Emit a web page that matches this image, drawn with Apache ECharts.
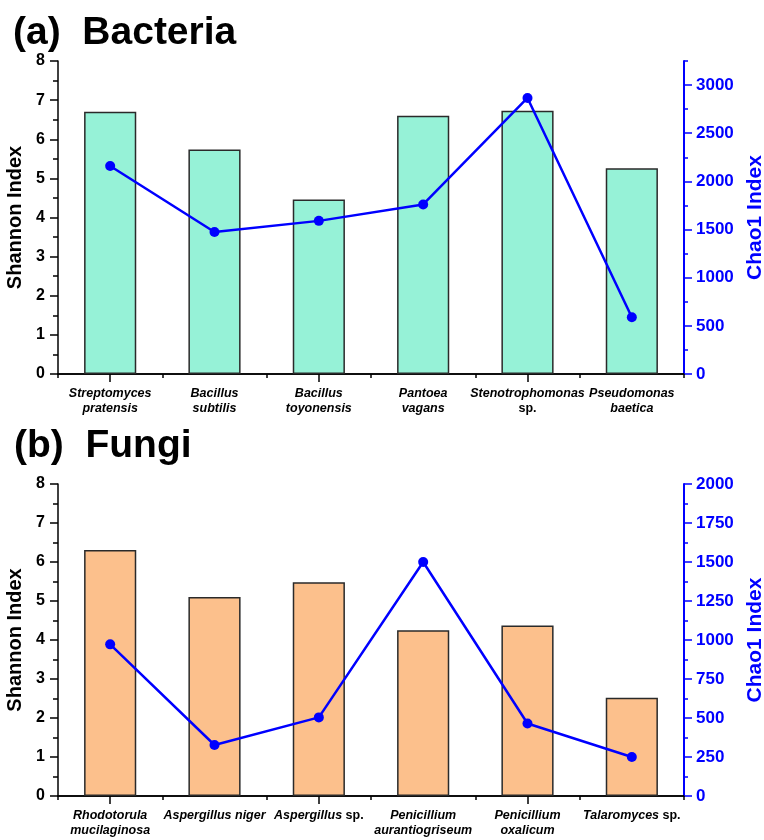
<!DOCTYPE html>
<html>
<head>
<meta charset="utf-8">
<script src="https://cdn.jsdelivr.net/npm/echarts@6/dist/echarts.min.js"></script>
<style>
html,body{margin:0;padding:0;background:#fff;}
#chart{width:764px;height:840px;}
</style>
</head>
<body>
<div id="chart"></div>
<script>
// ---- data ----
const bacteriaCategories = ['Streptomyces\npratensis', 'Bacillus\nsubtilis', 'Bacillus\ntoyonensis', 'Pantoea\nvagans', 'Stenotrophomonas\nsp.', 'Pseudomonas\nbaetica'];
const bacteriaShannon = [6.70, 5.74, 4.46, 6.60, 6.73, 5.26];
const bacteriaChao1 = [2160, 1475, 1590, 1760, 2866, 590];

const fungiCategories = ['Rhodotorula\nmucilaginosa', 'Aspergillus niger', 'Aspergillus sp.', 'Penicillium\naurantiogriseum', 'Penicillium\noxalicum', 'Talaromyces sp.'];
const fungiShannon = [6.31, 5.10, 5.48, 4.25, 4.37, 2.52];
const fungiChao1 = [972, 327, 504, 1500, 465, 250];

const shannonTicks = [0, 1, 2, 3, 4, 5, 6, 7, 8];
const bacteriaChao1Ticks = [0, 500, 1000, 1500, 2000, 2500, 3000];
const fungiChao1Ticks = [0, 250, 500, 750, 1000, 1250, 1500, 1750, 2000];

// ---- styling ----
const FONT = 'Liberation Sans, Arial, sans-serif';
const BLUE = '#0000FF';

function catLabel(v) {
  return v.split('\n').map(line =>
    line.split(' ').map(w => w === 'sp.' ? '{n|' + w + '}' : '{i|' + w + '}').join('{i| }')
  ).join('\n');
}

function grids() {
  return [
    { left: 58, right: 80, top: 61, height: 313, containLabel: false, outerBoundsMode: 'none' },
    { left: 58, right: 80, top: 484, height: 312, containLabel: false, outerBoundsMode: 'none' }
  ];
}

function xAxesFor(gi, cats) {
  return [
    {
      type: 'category', gridIndex: gi, position: 'bottom', data: cats,
      axisLine: { lineStyle: { color: '#000', width: 1.5 } },
      axisTick: { show: true, length: 4, lineStyle: { color: '#000', width: 1.5 } },
      axisLabel: {
        interval: 0, margin: 12, formatter: catLabel, lineHeight: 15,
        rich: {
          i: { fontFamily: FONT, fontSize: 12.5, fontWeight: 'bold', fontStyle: 'italic', color: '#000', lineHeight: 15 },
          n: { fontFamily: FONT, fontSize: 12.5, fontWeight: 'bold', fontStyle: 'normal', color: '#000', lineHeight: 15 }
        }
      }
    },
    {
      type: 'category', gridIndex: gi, position: 'bottom', data: cats,
      axisLine: { show: false },
      axisTick: { show: true, alignWithLabel: true, length: 8, lineStyle: { color: '#000', width: 1.5 } },
      axisLabel: { show: false }
    },
    {
      type: 'category', gridIndex: gi, position: 'top', data: cats,
      axisLine: { show: true, lineStyle: { color: '#000', width: 1.5 } },
      axisTick: { show: false },
      axisLabel: { show: false }
    }
  ];
}

function leftAxis(gi) {
  return {
    type: 'value', gridIndex: gi, position: 'left', min: 0, max: 8, interval: 1,
    name: 'Shannon Index', nameLocation: 'middle', nameGap: 26, nameRotate: 90,
    nameTextStyle: { fontFamily: FONT, fontSize: 20, fontWeight: 'bold', color: '#000' },
    axisLine: { show: true, lineStyle: { color: '#000', width: 1.5 } },
    axisTick: { show: true, length: 8, lineStyle: { color: '#000', width: 1.5 } },
    minorTick: { show: true, splitNumber: 2, length: 5, lineStyle: { color: '#000', width: 1.5 } },
    axisLabel: {
      margin: 13, fontFamily: FONT, fontSize: 16, fontWeight: 'bold', color: '#000',
      customValues: shannonTicks
    },
    splitLine: { show: false }
  };
}

function rightAxes(gi, max, minorStep, majorTicks) {
  return [
    {
      type: 'value', gridIndex: gi, position: 'right', min: 0, max: max, interval: minorStep,
      name: 'Chao1 Index', nameLocation: 'middle', nameGap: 55, nameRotate: 90,
      nameTextStyle: { fontFamily: FONT, fontSize: 21, fontWeight: 'bold', color: BLUE },
      axisLine: { show: true, lineStyle: { color: BLUE, width: 2 } },
      axisTick: { show: true, length: 4, lineStyle: { color: BLUE, width: 1.5 } },
      axisLabel: {
        margin: 12, fontFamily: FONT, fontSize: 17, fontWeight: 'bold', color: BLUE,
        customValues: majorTicks, formatter: v => String(v)
      },
      splitLine: { show: false }
    },
    {
      type: 'value', gridIndex: gi, position: 'right', min: 0, max: max, interval: minorStep,
      axisLine: { show: false },
      axisTick: { show: true, length: 8, customValues: majorTicks, lineStyle: { color: BLUE, width: 1.5 } },
      axisLabel: { show: false },
      splitLine: { show: false }
    }
  ];
}

const xAxis = [...xAxesFor(0, bacteriaCategories), ...xAxesFor(1, fungiCategories)];
const yAxis = [
  leftAxis(0), ...rightAxes(0, 3250, 250, bacteriaChao1Ticks),
  leftAxis(1), ...rightAxes(1, 2000, 125, fungiChao1Ticks)
];

function barSeries(xi, yi, data, color) {
  return {
    type: 'bar', xAxisIndex: xi, yAxisIndex: yi, data: data, barWidth: '50%',
    itemStyle: { color: color, borderColor: '#2a2a2a', borderWidth: 1.5 },
    silent: true, animation: false
  };
}
function lineSeries(xi, yi, data) {
  return {
    type: 'line', xAxisIndex: xi, yAxisIndex: yi, data: data,
    symbol: 'circle', symbolSize: 10,
    lineStyle: { color: BLUE, width: 2.5 },
    itemStyle: { color: BLUE },
    z: 5, silent: true, animation: false
  };
}

const option = {
  backgroundColor: '#fff',
  animation: false,
  title: [
    { text: '(a)  Bacteria', left: 13, top: 14, padding: 0,
      textStyle: { fontFamily: FONT, fontSize: 39, fontWeight: 'bold', color: '#000' } },
    { text: '(b)  Fungi', left: 14, top: 427, padding: 0,
      textStyle: { fontFamily: FONT, fontSize: 39, fontWeight: 'bold', color: '#000' } }
  ],
  grid: grids(),
  xAxis: xAxis,
  yAxis: yAxis,
  series: [
    barSeries(0, 0, bacteriaShannon, '#96F2D7'),
    lineSeries(0, 1, bacteriaChao1),
    barSeries(3, 3, fungiShannon, '#FCC08C'),
    lineSeries(3, 4, fungiChao1)
  ]
};

const chart = echarts.init(document.getElementById('chart'), null, { renderer: 'canvas' });
chart.setOption(option);
</script>
</body>
</html>
